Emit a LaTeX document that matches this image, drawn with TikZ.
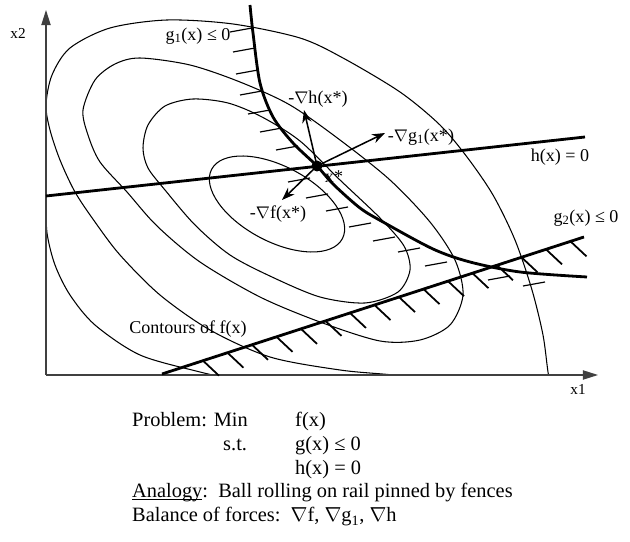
\documentclass[tikz,border=0pt]{standalone}
\usepackage{fontspec}
\setmainfont{Liberation Serif}
\usetikzlibrary{arrows.meta, calc}

\begin{document}
\begin{tikzpicture}[x=0.03cm, y=-0.03cm, >=Stealth,
  axis/.style={line width=1pt, black!75, -{Triangle[length=13pt,width=8pt]}},
  contour/.style={line width=0.9pt},
  rail/.style={line width=2.4pt},
  fence/.style={line width=1pt},
  picket/.style={line width=1.5pt},
  grad/.style={line width=1.3pt, ->, >={Stealth[length=11pt,width=8pt]}},
  lbl/.style={font=\fontsize{15.4}{18}\selectfont, inner sep=0pt},
  txt/.style={font=\fontsize{17.4}{20}\selectfont, anchor=base west, inner sep=0pt}]
  \useasboundingbox (0,0) rectangle (630,542);

  % axes
  \coordinate (O) at (46,375);
  \coordinate (ytop) at (46,10);
  \coordinate (xend) at (598,375);

  % contours of f
  \begin{scope}
    \clip (46,0) rectangle (630,375);
    \draw[contour] plot[smooth] coordinates {(46,200) (47,233) (55,265) (70,295) (95,325) (140,355) (200,372) (240,381)};
    \draw[contour] plot[smooth] coordinates {(552,392) (548,372) (543,335) (532,290) (515,240) (493,195) (467,157) (440,125) (400,92) (343,58) (300,38) (233,24) (167,20) (110,28) (70,48) (52,75) (46,105) (50,130) (60,160) (75,192) (95,222) (120,255) (160,295) (210,330) (270,357) (340,370) (393,375) (450,382)};
    \draw[contour] plot[smooth cycle] coordinates {(83,110) (95,80) (115,64) (140,58) (190,65) (240,82) (290,105) (340,140) (390,180) (430,222) (455,260) (463,295) (450,325) (420,340) (380,341) (320,322) (260,297) (200,262) (157,226) (127,192) (100,162) (88,135)};
    \draw[contour] plot[smooth cycle] coordinates {(143,148) (148,125) (165,106) (193,99) (228,103) (262,117) (300,141) (340,180) (380,218) (404,246) (410,270) (398,292) (365,303) (320,297) (272,277) (230,255) (195,225) (165,190) (148,168)};
    \draw[contour, rotate around={-28:(277,204)}] (277,204) ellipse [x radius=74, y radius=37.5];
  \end{scope}

  \draw[axis] (O) -- (ytop);
  \draw[axis] (O) -- (xend);
  \node[lbl, font=\fontsize{13}{15}\selectfont] (x2) at (18,33) {x2};
  \node[lbl, font=\fontsize{13}{15}\selectfont] (x1) at (578,389) {x1};

  % constraint g1
  \draw[rail] plot[smooth] coordinates {(250,5) (253,33) (260,83) (273,117) (293,143) (317,166) (333,184) (360,208) (383,222) (433,249) (470,262) (520,272) (587,277)};
  \foreach \p in {(252,28),(255,48),(258,70),(262,91),(270,110),(282,128),(298,146),
                  (310,178),(328,194),(348,207),(371,223),(395,237),(420,248),(447,262),(510,276),(545,282)}
    \draw[fence] \p -- ++(-22,4);
  \node[lbl] (g1lbl) at (198,36) {g\textsubscript{1}(x) ≤ 0};

  % constraint h
  \coordinate (ha) at (46,196);
  \coordinate (hb) at (585,137);
  \draw[rail] (ha) -- (hb);
  \node[lbl] (hlbl) at (560,157) {h(x) = 0};

  % constraint g2
  \coordinate (g2a) at (162,374);
  \coordinate (g2b) at (584,237);
  \draw[rail] (g2a) -- (g2b);
  \foreach \t in {0,...,15}
    \draw[picket] ($(g2a)!{(41+24.5*\t)/422}!(g2b)$) -- ++(16,15);
  \node[lbl] (g2lbl) at (586,218) {g\textsubscript{2}(x) ≤ 0};

  % optimum and forces
  \coordinate (xs) at (317,166);
  \coordinate (nh) at (304,110);
  \coordinate (ng) at (385,133);
  \coordinate (nf) at (282,200);
  \draw[grad] (xs) -- (nh);
  \draw[grad] (xs) -- (ng);
  \draw[grad] (xs) -- (nf);
  \fill (xs) circle [radius=5.5];
  \node[lbl] (nhlbl) at (318,99) {-$\nabla$h(x*)};
  \node[lbl] (nglbl) at (421,137) {-$\nabla$g\textsubscript{1}(x*)};
  \node[lbl] (nflbl) at (278,214) {-$\nabla$f(x*)};
  \node[lbl] (xslbl) at (334,177) {x*};
  \node[lbl] (cont) at (188,329) {Contours of f(x)};

  % problem statement
  \node[txt] (prob) at (132,427) {Problem: Min};
  \node[txt] (obj) at (295,427) {f(x)};
  \node[txt] (st) at (223,451) {s.t.};
  \node[txt] (ineq) at (295,451) {g(x) ≤ 0};
  \node[txt] (eq) at (295,475) {h(x) = 0};
  \node[txt] (anal) at (132,498) {\underline{\smash{Analogy}}:\ \ Ball rolling on rail pinned by fences};
  \node[txt] (bal) at (132,522) {Balance of forces:\ \ $\nabla$f, $\nabla$g\textsubscript{1}, $\nabla$h};
\end{tikzpicture}
\end{document}
